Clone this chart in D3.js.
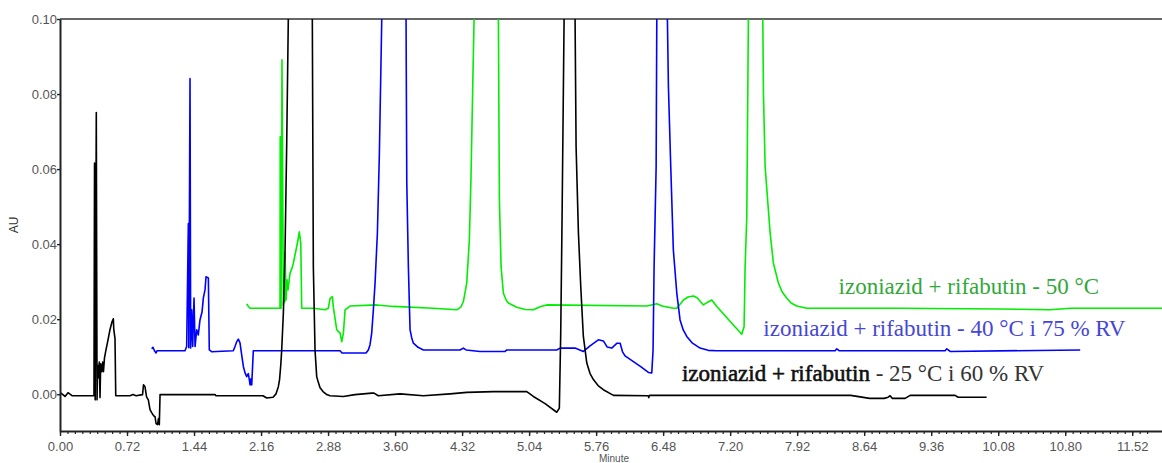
<!DOCTYPE html>
<html>
<head>
<meta charset="utf-8">
<script src="https://cdn.jsdelivr.net/npm/d3@7/dist/d3.min.js"></script>
<style>
  html, body { margin: 0; padding: 0; background: #fff; }
  svg { display: block; }
</style>
</head>
<body>
<svg id="chart" width="1162" height="463"></svg>
<script>
// ---- DATA (time in minutes, absorbance in AU) ----
const xTickValues = [0.00, 0.72, 1.44, 2.16, 2.88, 3.60, 4.32, 5.04, 5.76, 6.48, 7.20, 7.92, 8.64, 9.36, 10.08, 10.80, 11.52];
const yTickValues = [0.00, 0.02, 0.04, 0.06, 0.08, 0.10];
const xDomain = [0, 11.84];
const yDomain = [-0.0098, 0.10];

const seriesLabels = [
  "izoniazid + rifabutin - 50 °C",
  "izoniazid + rifabutin - 40 °C i 75 % RV",
  "izoniazid + rifabutin - 25 °C i 60 % RV"
];

// 25 °C i 60 % RV (black)
const trace25 = [
  [0.000,0.0003],[0.011,0.0003],[0.054,-0.0006],[0.086,0.0004],[0.129,-0.0004],[0.365,-0.0004],
  [0.371,0.0616],[0.378,-0.0015],[0.390,0.0751],[0.398,-0.0015],[0.404,0.0078],[0.414,0.0044],
  [0.422,0.0086],[0.430,-0.0009],[0.437,0.0081],[0.448,0.0060],[0.459,0.0086],[0.467,0.0060],
  [0.478,0.0097],[0.494,0.0118],[0.516,0.0145],[0.537,0.0172],[0.559,0.0193],[0.573,0.0201],
  [0.578,0.0172],[0.591,0.0148],[0.599,-0.0004],[0.752,-0.0004],[0.784,-0.0001],[0.817,-0.0004],
  [0.887,-0.0001],[0.897,0.0025],[0.913,0.0020],[0.930,-0.0007],[0.949,-0.0015],[0.967,-0.0041],
  [0.985,-0.0049],[1.005,-0.0057],[1.021,-0.0060],[1.032,-0.0078],[1.048,-0.0081],[1.058,-0.0065],
  [1.067,-0.0081],[1.075,-0.0001],[1.666,-0.0001],[1.676,-0.0004],[2.181,-0.0004],[2.221,-0.0010],
  [2.289,-0.0008],[2.321,0.0001],[2.346,0.0020],[2.359,0.0039],[2.372,0.0078],[2.382,0.0118],
  [2.400,0.0217],[2.418,0.0384],[2.436,0.0672],[2.453,0.1000],[2.579,0.5000],[2.711,0.1000],
  [2.722,0.0339],[2.740,0.0118],[2.758,0.0047],[2.776,0.0031],[2.794,0.0017],[2.826,0.0007],
  [2.866,-0.0001],[2.901,-0.0004],[3.044,-0.0006],[3.170,-0.0001],[3.349,0.0003],[3.374,0.0003],
  [3.420,-0.0004],[3.654,0.0001],[3.904,-0.0004],[4.191,0.0001],[4.370,0.0005],[4.656,0.0007],
  [5.015,0.0007],[5.086,-0.0006],[5.212,-0.0025],[5.337,-0.0048],[5.365,-0.0037],[5.380,0.0164],
  [5.394,0.0464],[5.416,0.1000],[5.475,0.5000],[5.534,0.1000],[5.545,0.0659],[5.570,0.0430],
  [5.595,0.0287],[5.623,0.0154],[5.660,0.0083],[5.695,0.0055],[5.731,0.0039],[5.781,0.0023],
  [5.838,0.0012],[5.946,-0.0003],[6.319,-0.0004],[6.326,-0.0009],[6.334,-0.0003],[6.877,-0.0003],
  [8.495,-0.0003],[8.699,-0.0011],[8.855,-0.0011],[8.898,-0.0008],[8.919,-0.0004],[8.941,-0.0011],
  [9.080,-0.0011],[9.134,-0.0003],[9.617,-0.0003],[9.649,-0.0008],[9.956,-0.0008]
];

// 40 °C i 75 % RV (blue)
const trace40 = [
  [0.985,0.0121],[0.999,0.0125],[1.015,0.0116],[1.032,0.0110],[1.042,0.0116],[1.343,0.0116],
  [1.361,0.0127],[1.379,0.0455],[1.384,0.0124],[1.397,0.0841],[1.404,0.0123],[1.415,0.0225],
  [1.426,0.0127],[1.432,0.0193],[1.440,0.0256],[1.451,0.0127],[1.469,0.0172],[1.486,0.0158],
  [1.504,0.0198],[1.526,0.0219],[1.540,0.0256],[1.558,0.0278],[1.569,0.0313],[1.594,0.0310],
  [1.604,0.0118],[1.633,0.0113],[1.684,0.0114],[1.862,0.0116],[1.880,0.0127],[1.899,0.0140],
  [1.916,0.0147],[1.934,0.0137],[1.952,0.0105],[1.970,0.0074],[1.988,0.0057],[2.006,0.0047],
  [2.023,0.0055],[2.034,0.0039],[2.042,0.0025],[2.052,0.0041],[2.060,0.0025],[2.077,0.0116],
  [3.009,0.0116],[3.030,0.0110],[3.288,0.0110],[3.313,0.0118],[3.331,0.0132],[3.349,0.0163],
  [3.367,0.0225],[3.385,0.0296],[3.410,0.0429],[3.431,0.0637],[3.457,0.1000],[3.589,0.5000],
  [3.718,0.1000],[3.726,0.0562],[3.743,0.0340],[3.761,0.0172],[3.779,0.0150],[3.797,0.0136],
  [3.847,0.0125],[3.904,0.0118],[4.298,0.0118],[4.334,0.0123],[4.363,0.0118],[4.513,0.0114],
  [4.782,0.0114],[4.800,0.0118],[5.337,0.0118],[5.373,0.0123],[5.534,0.0123],[5.623,0.0114],
  [5.695,0.0129],[5.784,0.0145],[5.838,0.0142],[5.878,0.0126],[5.928,0.0123],[5.985,0.0136],
  [6.018,0.0136],[6.044,0.0113],[6.071,0.0102],[6.161,0.0087],[6.243,0.0073],[6.322,0.0058],
  [6.358,0.0057],[6.372,0.0118],[6.383,0.0340],[6.405,0.0606],[6.412,0.1000],[6.469,0.5000],
  [6.526,0.1000],[6.537,0.0819],[6.562,0.0606],[6.590,0.0384],[6.627,0.0269],[6.662,0.0198],
  [6.695,0.0172],[6.734,0.0154],[6.791,0.0137],[6.877,0.0123],[6.963,0.0117],[7.057,0.0116],
  [8.328,0.0116],[8.346,0.0121],[8.371,0.0116],[9.510,0.0116],[9.528,0.0121],[9.564,0.0114],
  [10.961,0.0118]
];

// 50 °C (green)
const trace50 = [
  [2.006,0.0241],[2.020,0.0235],[2.042,0.0229],[2.364,0.0229],[2.366,0.0686],[2.375,0.0229],
  [2.385,0.0891],[2.400,0.0238],[2.407,0.0318],[2.415,0.0246],[2.418,0.0376],[2.429,0.0251],
  [2.439,0.0305],[2.450,0.0278],[2.471,0.0322],[2.493,0.0336],[2.507,0.0349],[2.525,0.0371],
  [2.543,0.0393],[2.557,0.0411],[2.571,0.0433],[2.587,0.0402],[2.597,0.0229],[2.722,0.0229],
  [2.848,0.0225],[2.883,0.0229],[2.901,0.0255],[2.926,0.0260],[2.937,0.0232],[2.973,0.0172],
  [3.009,0.0163],[3.027,0.0140],[3.045,0.0163],[3.063,0.0225],[3.116,0.0235],[3.402,0.0238],
  [3.582,0.0234],[4.011,0.0229],[4.263,0.0225],[4.309,0.0233],[4.334,0.0247],[4.370,0.0296],
  [4.398,0.0411],[4.416,0.0579],[4.435,0.0828],[4.449,0.1000],[4.578,0.5000],[4.710,0.1000],
  [4.721,0.0517],[4.739,0.0340],[4.764,0.0269],[4.793,0.0251],[4.817,0.0243],[4.907,0.0232],
  [4.997,0.0226],[5.086,0.0225],[5.158,0.0233],[5.229,0.0238],[6.305,0.0235],[6.412,0.0241],
  [6.469,0.0235],[6.590,0.0229],[6.627,0.0229],[6.698,0.0251],[6.748,0.0259],[6.806,0.0262],
  [6.845,0.0257],[6.913,0.0238],[6.963,0.0246],[7.003,0.0251],[7.057,0.0234],[7.146,0.0209],
  [7.232,0.0185],[7.325,0.0160],[7.350,0.0180],[7.361,0.0340],[7.379,0.0473],[7.396,0.1000],
  [7.474,0.5000],[7.551,0.1000],[7.558,0.0801],[7.576,0.0606],[7.611,0.0491],[7.630,0.0429],
  [7.665,0.0349],[7.719,0.0296],[7.758,0.0273],[7.809,0.0256],[7.855,0.0243],[7.916,0.0235],
  [8.024,0.0229],[9.026,0.0229],[10.101,0.0227],[10.638,0.0225],[10.853,0.0229],[11.842,0.0229]
];

// ---- DRAWING ----
const W = 1162, H = 463;
const plot = { left: 60, top: 19, right: 1162, bottom: 431 };

const svg = d3.select("#chart");
const x = d3.scaleLinear().domain(xDomain).range([plot.left, plot.right]);
const y = d3.scaleLinear().domain(yDomain).range([plot.bottom, plot.top]);

svg.append("defs").append("clipPath").attr("id", "clip")
  .append("rect")
  .attr("x", plot.left).attr("y", plot.top)
  .attr("width", plot.right - plot.left).attr("height", plot.bottom - plot.top);

// top frame line
svg.append("line")
  .attr("x1", plot.left).attr("x2", plot.right)
  .attr("y1", plot.top).attr("y2", plot.top)
  .attr("stroke", "#333").attr("stroke-width", 1.5);

const line = d3.line().x(d => x(d[0])).y(d => y(d[1]));

const series = [
  { data: trace50, color: "#00ee00" },
  { data: trace40, color: "#0000ff" },
  { data: trace25, color: "#000000" }
];

const lines = svg.append("g").attr("clip-path", "url(#clip)");
series.forEach(s => {
  lines.append("path")
    .datum(s.data)
    .attr("fill", "none")
    .attr("stroke", s.color)
    .attr("stroke-width", 1.6)
    .attr("stroke-linejoin", "round")
    .attr("d", line);
});

// minor x ticks
const minorTicks = d3.range(0, 147).map(i => i * 0.08).filter(v => v <= xDomain[1]);
const gMinor = svg.append("g")
  .attr("transform", `translate(0,${plot.bottom})`)
  .call(d3.axisBottom(x).tickValues(minorTicks).tickSize(3).tickFormat(""));
gMinor.select(".domain").remove();
gMinor.selectAll("line").attr("stroke", "#222").attr("stroke-width", 1.2);

// major x axis
const gx = svg.append("g")
  .attr("transform", `translate(0,${plot.bottom})`)
  .call(d3.axisBottom(x).tickValues(xTickValues).tickSize(5).tickSizeOuter(0).tickFormat(d3.format(".2f")));
gx.select(".domain").attr("stroke", "#222").attr("stroke-width", 2);
gx.selectAll("line").attr("stroke", "#222").attr("stroke-width", 1.4);
gx.selectAll("text")
  .attr("font-family", "Arial, 'Liberation Sans', sans-serif")
  .attr("font-size", 13).attr("fill", "#555").attr("dy", "0.95em");

// y axis
const gy = svg.append("g")
  .attr("transform", `translate(${plot.left},0)`)
  .call(d3.axisLeft(y).tickValues(yTickValues).tickSize(3).tickSizeOuter(0).tickFormat(d3.format(".2f")));
gy.select(".domain").attr("stroke", "#222").attr("stroke-width", 2);
gy.selectAll("line").attr("stroke", "#222").attr("stroke-width", 1.4);
gy.selectAll("text")
  .attr("font-family", "Arial, 'Liberation Sans', sans-serif")
  .attr("font-size", 13).attr("fill", "#555").attr("x", -3);

// axis titles
svg.append("text")
  .attr("transform", `translate(18,225) rotate(-90)`)
  .attr("text-anchor", "middle")
  .attr("font-family", "Arial, 'Liberation Sans', sans-serif")
  .attr("font-size", 12).attr("fill", "#333")
  .text("AU");

svg.append("text")
  .attr("x", 614).attr("y", 462)
  .attr("text-anchor", "middle")
  .attr("font-family", "Arial, 'Liberation Sans', sans-serif")
  .attr("font-size", 10).attr("fill", "#555")
  .text("Minute");

// series labels
const labelSpecs = [
  { text: seriesLabels[0], color: "#30a838", t: 8.365, v: 0.0268 },
  { text: seriesLabels[1], color: "#4646d6", t: 7.557, v: 0.0154 },
  { text: seriesLabels[2], color: "#111111", t: 6.682, v: 0.0034 }
];
labelSpecs.forEach((l, i) => {
  const t = svg.append("text")
    .attr("x", x(l.t)).attr("y", y(l.v))
    .attr("font-family", "'Liberation Serif', 'Times New Roman', serif")
    .attr("font-size", 23)
    .attr("fill", l.color);
  if (i === 2) {
    t.append("tspan").attr("stroke", l.color).attr("stroke-width", 0.6).text("izoniazid + rifabutin");
    t.append("tspan").attr("fill", "#333").text(l.text.replace("izoniazid + rifabutin", ""));
  } else {
    t.text(l.text);
  }
});
</script>
</body>
</html>
